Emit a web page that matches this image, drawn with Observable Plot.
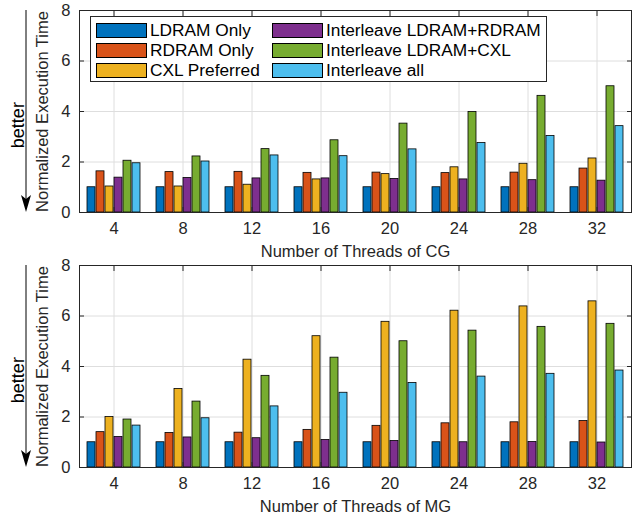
<!DOCTYPE html>
<html><head><meta charset="utf-8">
<script src="https://cdn.jsdelivr.net/npm/d3@7"></script>
<script src="https://cdn.jsdelivr.net/npm/@observablehq/plot@0.6"></script>
<style>
body{margin:0;background:#fff;font-family:"Liberation Sans",Arial,sans-serif;}
#wrap{position:relative;width:644px;height:517px;overflow:hidden;}
.panel{position:absolute;left:0;}
.legend{position:absolute;left:90px;top:16px;width:457px;height:66px;border:1px solid #262626;background:#fff;box-sizing:border-box;font-size:17.3px;color:#000;}
.item{position:absolute;display:flex;align-items:center;height:20px;white-space:nowrap;}
.sw{width:51px;height:15px;border:1px solid #000;box-sizing:border-box;margin-right:3px;}
</style></head><body><div id="wrap"></div>
<script>
const threads = ["4","8","12","16","20","24","28","32"];
const series = ["LDRAM Only","RDRAM Only","CXL Preferred","Interleave LDRAM+RDRAM","Interleave LDRAM+CXL","Interleave all"];
const colors = ["#0072BD","#D95319","#EDB120","#7E2F8E","#77AC30","#4DBEEE"];
const yTicks = [0,2,4,6,8];

// CG
const cgLDRAM      = [1,1,1,1,1,1,1,1];
const cgRDRAM      = [1.63,1.60,1.61,1.57,1.58,1.56,1.58,1.74];
const cgCXL        = [1.03,1.03,1.10,1.31,1.52,1.79,1.93,2.14];
const cgInterLR    = [1.38,1.37,1.35,1.35,1.33,1.31,1.28,1.26];
const cgInterLC    = [2.05,2.22,2.51,2.86,3.52,3.98,4.62,5.00];
const cgInterAll   = [1.95,2.02,2.26,2.23,2.50,2.75,3.03,3.42];
// MG
const mgLDRAM      = [1,1,1,1,1,1,1,1];
const mgRDRAM      = [1.40,1.37,1.38,1.49,1.65,1.75,1.79,1.84];
const mgCXL        = [2.00,3.11,4.27,5.20,5.77,6.21,6.38,6.58];
const mgInterLR    = [1.21,1.19,1.16,1.09,1.05,1.00,1.01,0.99];
const mgInterLC    = [1.90,2.61,3.63,4.35,5.00,5.42,5.57,5.69];
const mgInterAll   = [1.66,1.95,2.42,2.96,3.35,3.60,3.71,3.84];

function rowsOf(arrs){
  const out=[];
  threads.forEach((t,i)=>series.forEach((s,j)=>out.push({threads:t,series:s,value:arrs[j][i]})));
  return out;
}
const cgRows = rowsOf([cgLDRAM,cgRDRAM,cgCXL,cgInterLR,cgInterLC,cgInterAll]);
const mgRows = rowsOf([mgLDRAM,mgRDRAM,mgCXL,mgInterLR,mgInterLC,mgInterAll]);

const ink="#262626", grid="#dedede";
function panel(rows, xlabel, height, mTop, mBottom){
  const svg = Plot.plot({
    width:644, height, marginLeft:77, marginRight:11, marginTop:mTop, marginBottom:mBottom,
    style:{fontFamily:"'Liberation Sans', Arial, sans-serif", fontSize:"17px", color:ink, background:"white", overflow:"visible"},
    fx:{domain:threads, padding:0, label:null},
    x:{domain:series, paddingInner:0.14, paddingOuter:0.72, axis:null},
    y:{domain:[0,8], axis:null},
    color:{domain:series, range:colors},
    marks:[
      Plot.gridY(yTicks,{stroke:grid, strokeOpacity:1}),
      Plot.gridFx({stroke:grid, strokeOpacity:1}),
      Plot.barY(rows,{fx:"threads", x:"series", y:"value", fill:"series", stroke:"#000", strokeWidth:0.8}),
      Plot.axisY(yTicks,{anchor:"left", tickSize:-5, tickPadding:14, fontSize:16.5, color:ink,
        label:"Normalized Execution Time", labelAnchor:"center", labelOffset:43, labelArrow:"none"}),
      Plot.axisY(yTicks,{anchor:"right", tickSize:-5, tickFormat:()=>"", label:null, color:ink}),
      Plot.axisFx({anchor:"bottom", tickSize:-5, tickPadding:15, fontSize:16.5, color:ink,
        label:xlabel, labelAnchor:"center", labelOffset:44}),
      Plot.axisFx({anchor:"top", tickSize:-5, tickFormat:()=>"", label:null, color:ink}),
      Plot.frame({facet:"super", stroke:ink})
    ]
  });
  // "better" arrow annotation
  const s = d3.select(svg);
  const y0 = mTop, y1 = height - mBottom;
  const g = s.append("g");
  g.append("line").attr("x1",26).attr("x2",26).attr("y1",y0).attr("y2",y1-10).attr("stroke","#000").attr("stroke-width",1);
  g.append("path").attr("d",`M26,${y1} L21,${y1-17} L26,${y1-13} L31,${y1-17} Z`).attr("fill","#000");
  g.append("text").attr("transform",`translate(24,${y0+(y1-y0)*0.57}) rotate(-90)`)
    .attr("text-anchor","middle").attr("font-size",18).attr("fill","#000").text("better");
  return svg;
}

const wrap = document.getElementById("wrap");
const p1 = document.createElement("div"); p1.className="panel"; p1.style.top="0px";
p1.appendChild(panel(cgRows,"Number of Threads of CG",258,10,46));
const p2 = document.createElement("div"); p2.className="panel"; p2.style.top="258px";
p2.appendChild(panel(mgRows,"Number of Threads of MG",259,7,50));
wrap.appendChild(p1); wrap.appendChild(p2);

// legend (inside top axes)
const lg = document.createElement("div"); lg.className="legend";
series.forEach((s,j)=>{
  const it=document.createElement("div"); it.className="item";
  it.style.left = (j<3?5:181)+"px";
  it.style.top = (3 + (j%3)*20)+"px";
  const sw=document.createElement("div"); sw.className="sw"; sw.style.background=colors[j];
  const tx=document.createElement("span"); tx.textContent=s;
  it.appendChild(sw); it.appendChild(tx); lg.appendChild(it);
});
wrap.appendChild(lg);
</script></body></html>
